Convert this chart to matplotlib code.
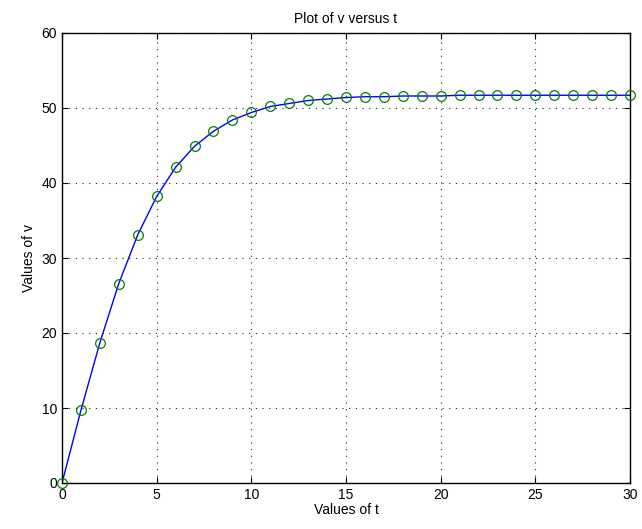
import matplotlib
matplotlib.use('agg')
import matplotlib.pyplot as plt

t = list(range(0, 31))
v = [0.0, 9.7, 18.7, 26.6, 33.1, 38.2, 42.1, 44.9, 46.9, 48.4,
     49.4, 50.2, 50.6, 51.0, 51.2, 51.4, 51.5, 51.5, 51.6, 51.6,
     51.6, 51.7, 51.7, 51.7, 51.7, 51.7, 51.7, 51.7, 51.7, 51.7, 51.7]

plt.rcParams['font.family'] = ['Liberation Sans', 'DejaVu Sans']

fig = plt.figure(figsize=(6.42, 5.29), dpi=100)
ax = fig.add_axes([62 / 642, 46 / 529, 568 / 642, 450 / 529])

ax.plot(t, v, color='blue', linewidth=1)
ax.plot(t, v, linestyle='none', marker='o', markersize=7, clip_on=False,
        markerfacecolor='none', markeredgecolor='#008000', markeredgewidth=0.9,
        zorder=3)

ax.set_xlim(0, 30)
ax.set_ylim(0, 60)
ax.set_xticks(range(0, 31, 5))
ax.set_yticks(range(0, 61, 10))
ax.grid(True, linestyle=(0, (1, 5)), color='#222222', linewidth=0.8)
ax.tick_params(direction='in', top=True, right=True, labelsize=10, length=4)
for s in ax.spines.values():
    s.set_linewidth(1)

ax.set_xlabel('Values of t', fontsize=10, labelpad=1)
ax.set_ylabel('Values of v', fontsize=10)
ax.set_title('Plot of v versus t', fontsize=10, pad=7)

fig.savefig('out.png', dpi=100)
